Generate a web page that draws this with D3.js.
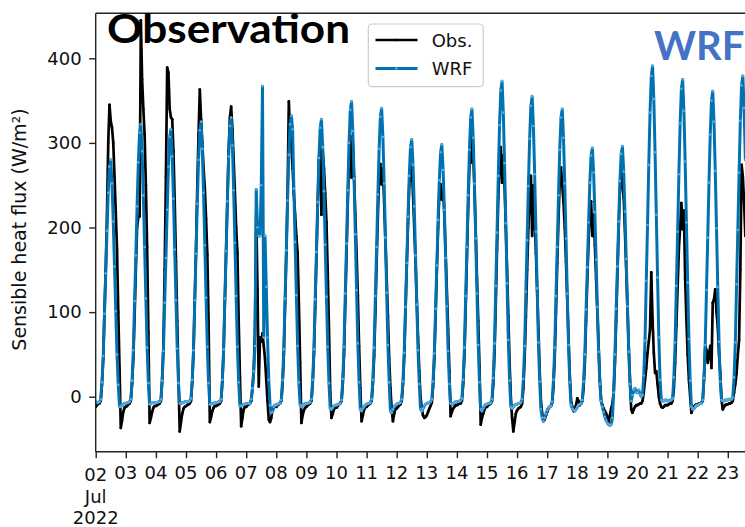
<!DOCTYPE html>
<html><head><meta charset="utf-8">
<script src="https://cdn.jsdelivr.net/npm/d3@7"></script>
<style>body{margin:0;background:#fff}svg{display:block}</style>
</head><body>
<svg id="c" width="745" height="527"></svg>
<script>
// hourly values starting 2022-07-02 00:00 UTC
const startTime = Date.UTC(2022, 6, 2, 0);
const endTime = Date.UTC(2022, 6, 24, 0);

const obs = [
 -12,-10,-8,-8,-5, 15,45,100,150,215,300,345,326,318,300,260,218,174,100, 34,-37,-28,-18,-13,
 -12,-11,-9,-8,-5, 15,45,95,150,200,213,213,445,375,340,310,250,177,76, -31,-25,-18,-13,-11,
 -11,-10,-9,-8,-5, 20,60,150,260,389,383,340,330,328,290,230,160,90,20, -41,-30,-20,-14,-12,
 -11,-10,-9,-8,-5, 18,55,115,175,248,310,363,328,300,270,247,210,168,89, -30,-24,-17,-13,-11,
 -11,-10,-9,-8,-5, 18,55,115,172,231,290,330,343,316,280,241,200,170,90, 24,-35,-25,-15,-12,
 -12,-10,-9,-8,-5, 10,30,80,218,127,12,70,65,75,60,45,20,-5,-27, -30,-25,-15,-12,-10,
 -12,-10,-9,-8,-5, 15,50,110,170,240,349,310,300,270,240,215,190,170,110, 40,-31,-22,-16,-13,
 -12,-10,-9,-8,-5, 15,50,105,165,225,280,300,215,290,270,240,206,147,80, 5,-25,-20,-15,-12,
 -13,-11,-9,-8,-5, 15,50,110,170,230,280,308,259,300,260,215,170,120,60, 10,-29,-22,-15,-12,
 -12,-10,-9,-8,-5, 15,48,100,160,215,260,275,251,270,230,185,140,95,45, 10,-15,-29,-20,-14,
 -14,-12,-10,-9,-5, 15,48,100,155,205,250,265,273,240,200,160,115,70,30, 0,-15,-22,-25,-24,
 -22,-18,-14,-11,-7, 12,45,95,150,200,240,251,233,245,215,170,125,80,30, -23,-18,-14,-12,-10,
 -10,-9,-8,-8,-5, 15,50,105,165,225,275,310,277,290,245,195,140,90,35, -33,-25,-20,-15,-12,
 -12,-10,-9,-8,-5, 15,52,110,175,235,280,295,253,285,250,200,150,95,40, 0,-25,-41,-30,-20,
 -16,-14,-13,-12,-8, 10,45,95,150,200,240,261,190,250,215,170,125,80,30, -5,-20,-29,-27,-22,
 -18,-14,-12,-11,-7, 12,48,100,158,210,255,271,250,230,200,160,115,70,25, -5,-12,-17,-15,-10,
 -2,-5,-10,-8,-5, 10,40,90,140,185,220,231,190,215,180,140,100,60,20, -5,-10,-14,-17,-20,
 -25,-30,-22,-14,-8, 5,40,90,145,200,245,273,250,235,195,150,105,60,20, -15,-19,-15,-12,-10,
 -10,-9,-8,-8,-5, 5,20,34,52,65,80,147,91,52,28,30,15,0,-8, -12,-13,-12,-10,-10,
 -10,-9,-8,-8,-5, 10,40,85,130,175,200,229,198,220,140,91,50,20,0, -19,-15,-12,-10,-9,
 -9,-8,-8,-7,-5, 20,60,55,40,50,60,34,111,115,127,100,83,50,28, -4,-15,-12,-10,-9,
 -9,-8,-8,-7,-5, 5,15,28,50,67,150,274,260,230,190
];

const wrf = [
 -6,-7,-7,-6,-3, 17,48,98,146,196,241,272,280,252,207,154,101,50,14, -12,-12,-10,-9,-8,
 -8,-7,-7,-6,-3, 19,55,113,167,225,277,312,322,290,238,177,116,58,16, -9,-8,-7,-7,-7,
 -7,-7,-6,-6,-3, 19,54,111,164,221,272,307,316,284,234,174,114,57,16, -8,-8,-7,-7,-6,
 -6,-6,-6,-5,-2, 20,55,114,169,228,280,315,325,293,241,179,117,59,16, -9,-9,-8,-8,-7,
 -7,-7,-6,-6,-3, 20,56,116,172,231,284,320,330,297,244,182,119,59,17, -11,-11,-10,-9,-9,
 -8,-8,-8,-8,-3, 10,30,60,245,200,190,190,250,367,70,190,130,70,20, -10,-19,-18,-12,-10,
 -10,-9,-8,-8,-4, 20,56,116,173,232,286,322,332,316,246,183,120,60,17, -10,-12,-10,-9,-8,
 -8,-8,-7,-7,-3, 20,56,115,171,230,282,318,328,295,243,180,118,59,16, -14,-15,-13,-11,-10,
 -10,-9,-9,-8,-4, 21,59,122,181,244,300,339,349,314,258,192,126,63,17, -15,-17,-14,-12,-10,
 -9,-8,-8,-7,-3, 20,58,119,177,239,293,331,341,307,252,188,123,61,17, -17,-19,-15,-12,-10,
 -9,-8,-8,-7,-3, 18,52,106,158,213,261,295,304,274,225,167,109,55,15, -15,-17,-14,-11,-9,
 -8,-7,-7,-6,-3, 18,51,104,155,209,256,289,298,268,221,164,107,54,15, -8,-9,-8,-7,-6,
 -6,-6,-5,-5,-2, 20,58,119,177,238,292,330,340,306,252,187,122,61,17, -15,-17,-14,-11,-9,
 -9,-8,-8,-7,-3, 22,63,131,194,261,321,362,373,336,276,205,134,67,19, -12,-14,-12,-10,-9,
 -9,-8,-8,-7,-3, 21,60,124,185,249,305,344,355,320,263,195,128,64,18, -15,-25,-29,-25,-20,
 -16,-13,-12,-11,-6, 20,58,119,177,238,292,330,340,306,252,187,122,61,17, -10,-14,-16,-17,-15,
 -12,-10,-9,-8,-4, 18,50,103,153,206,253,285,294,265,218,162,106,53,15, -5,-12,-18,-24,-28,
 -31,-33,-34,-33,-25, 5,50,104,154,207,255,287,296,266,219,163,107,53,15, -5,2,8,10,5,
 5,8,3,0,2, 25,66,137,203,274,336,379,391,352,289,215,141,70,20, -4,-5,-5,-4,-4,
 -5,-5,-4,-4,-2, 23,64,131,195,263,323,364,375,338,278,206,135,68,19, -12,-15,-14,-12,-10,
 -10,-9,-8,-8,-4, 22,61,126,188,253,310,350,361,325,267,199,130,65,18, -4,-5,-5,-4,-4,
 -4,-3,-3,-3,-1, 23,64,133,197,265,326,368,379,341,280
];

const yTicks = [0, 100, 200, 300, 400];
const firstTickLines = ["02", "Jul", "2022"];
const seriesNames = ["Obs.", "WRF"];
const yLabel = "Sensible heat flux (W/m²)";

const W = 745;
const M = {left: 95.7, top: 13.3, bottom: 451.7, right: 757.9};
const svg = d3.select("#c");
const FONT = "DejaVu Sans, sans-serif";

const x = d3.scaleUtc().domain([new Date(startTime), new Date(endTime)]).range([M.left, M.right]);
const y = d3.scaleLinear().domain([-65, 453.2]).range([M.bottom, M.top]);
const tOf = i => new Date(startTime + i * 3600e3);

svg.append("defs").append("clipPath").attr("id", "clip")
  .append("rect").attr("x", M.left).attr("y", M.top)
  .attr("width", M.right - M.left).attr("height", M.bottom - M.top);

const plot = svg.append("g").attr("clip-path", "url(#clip)");
const line = d3.line().x((d, i) => x(tOf(i))).y(d => y(d));

const styles = [
  {data: obs, color: "#000", width: 2.7, mk: "#000"},
  {data: wrf, color: "#0072b2", width: 3, mk: "#5aa8dc"}
];
styles.forEach(s => {
  plot.append("path").attr("d", line(s.data)).attr("fill", "none")
    .attr("stroke", s.color).attr("stroke-width", s.width)
    .attr("stroke-linejoin", "round").attr("stroke-linecap", "round");
  plot.append("g").selectAll("circle").data(s.data).join("circle")
    .attr("cx", (d, i) => x(tOf(i))).attr("cy", d => y(d))
    .attr("r", 1.3).attr("fill", s.mk);
});

// axes
const yAxis = d3.axisLeft(y).tickValues(yTicks).tickSize(6.5).tickPadding(7.5);
const gy = svg.append("g").attr("transform", `translate(${M.left},0)`).call(yAxis);
gy.select(".domain").remove();
gy.selectAll("line").attr("stroke", "#222").attr("stroke-width", 1.4);
gy.selectAll("text").attr("font-family", FONT).attr("font-size", 18).attr("fill", "#111");

const dayTicks = x.ticks(d3.utcDay.every(1)).filter(d => x(d) + 12 < W);
const xAxis = d3.axisBottom(x).tickValues(dayTicks).tickSize(6.5).tickFormat("");
const gx = svg.append("g").attr("transform", `translate(0,${M.bottom})`).call(xAxis);
gx.select(".domain").remove();
gx.selectAll("line").attr("stroke", "#222").attr("stroke-width", 1.4);
const fmt = d3.utcFormat("%d");
dayTicks.forEach((d, i) => {
  const lines = i === 0 ? firstTickLines : [fmt(d)];
  const base = i === 0 ? 481 : 479;
  lines.forEach((t, k) => {
    svg.append("text").attr("x", x(d)).attr("y", base + k * 21.5)
      .attr("text-anchor", "middle").attr("font-family", FONT).attr("font-size", 18)
      .attr("fill", "#111").text(t);
  });
});

// spines
const sp = svg.append("g").attr("stroke", "#222").attr("stroke-width", 1.4).attr("fill", "none");
sp.append("line").attr("x1", M.left).attr("x2", M.left).attr("y1", M.top).attr("y2", M.bottom);
sp.append("line").attr("x1", M.left).attr("x2", W).attr("y1", M.top).attr("y2", M.top);
sp.append("line").attr("x1", M.left).attr("x2", W).attr("y1", M.bottom).attr("y2", M.bottom);

// y label
svg.append("text").attr("transform", `translate(26,${(M.top + M.bottom) / 2 - 3}) rotate(-90)`)
  .attr("text-anchor", "middle").attr("font-family", FONT).attr("font-size", 19)
  .attr("fill", "#111").text(yLabel);

// legend
const lg = svg.append("g");
lg.append("rect").attr("x", 368.3).attr("y", 24).attr("width", 115).attr("height", 62.7)
  .attr("rx", 4).attr("fill", "#fff").attr("fill-opacity", 0.8)
  .attr("stroke", "#ccc").attr("stroke-width", 1.2);
seriesNames.forEach((n, i) => {
  const yy = 40 + i * 28.5;
  lg.append("line").attr("x1", 375.5).attr("x2", 417.5).attr("y1", yy).attr("y2", yy)
    .attr("stroke", styles[i].color).attr("stroke-width", styles[i].width);
  lg.append("circle").attr("cx", 396.5).attr("cy", yy).attr("r", 1.3).attr("fill", styles[i].mk);
  lg.append("text").attr("x", 431.7).attr("y", yy + 6.8).attr("font-family", FONT)
    .attr("font-size", 18).attr("fill", "#111").text(n);
});

// titles
svg.append("text").attr("x", 107).attr("y", 43).attr("font-family", "Lato, 'Open Sans', sans-serif")
  .attr("font-weight", "bold").attr("font-size", 40).attr("fill", "#000")
  .attr("textLength", 243).attr("lengthAdjust", "spacingAndGlyphs").text("Observation");
svg.append("text").attr("x", 654).attr("y", 60).attr("font-family", "Lato, 'Open Sans', sans-serif")
  .attr("font-weight", "bold").attr("font-size", 40).attr("fill", "#4472c4").text("WRF");
</script>
</body></html>
